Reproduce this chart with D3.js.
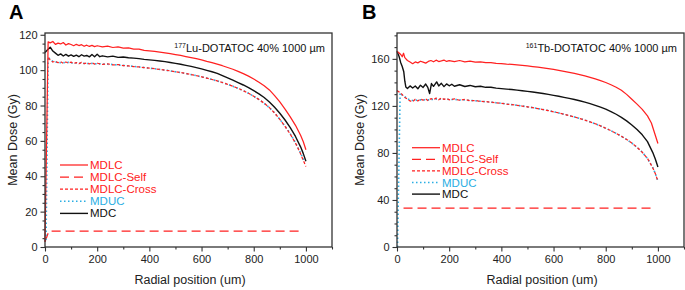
<!DOCTYPE html>
<html>
<head>
<meta charset="utf-8">
<script src="https://cdn.jsdelivr.net/npm/d3@7"></script>
<style>
  body { margin: 0; background: #fff; }
  svg { display: block; font-family: "Liberation Sans", Arial, sans-serif; }
  .axis text { font-size: 11px; fill: #222; }
  .axis path, .axis line { stroke: #333; stroke-width: 1.1; }
</style>
</head>
<body>
<svg id="chart" width="685" height="290"></svg>
<script>
// ---- data: [radial position (um), mean dose (Gy)] ----
const seriesNames = ['MDLC', 'MDLC-Self', 'MDLC-Cross', 'MDUC', 'MDC'];

// panel A : 177Lu-DOTATOC
const aMDLC = [[0,3],[12,116],[20,115.4],[30,116.2],[40,114.6],[50,115.3],[60,114.8],[70,115.6],[80,114.2],[90,115],[100,114.5],[110,113.8],[120,114.6],[130,113.9],[140,114.4],[150,113.5],[160,114.1],[170,113.4],[180,114],[190,113.3],[200,113.8],[220,113.1],[240,113.6],[260,112.8],[280,113.1],[300,112.5],[320,112.6],[340,111.9],[360,111.9],[380,111.2],[400,110.9],[420,110.6],[440,110.2],[460,109.8],[480,109.3],[500,108.8],[520,108.3],[540,107.7],[560,107.1],[580,106.5],[600,105.8],[620,105],[640,104.3],[660,103.4],[680,102.5],[700,101.5],[720,100.5],[740,99.3],[760,98],[780,96.6],[800,95],[820,93.2],[840,91.2],[860,88.8],[880,85.6],[900,82],[920,78],[940,73.6],[960,68.8],[980,63],[990,59.5],[1000,55]];
const aSelf = [[0,3],[15,9],[985,9]];
const aCross = [[12,107],[20,105.8],[30,104.6],[40,105.1],[50,104.2],[60,104.8],[70,103.9],[80,104.6],[90,104],[100,104.5],[110,103.8],[120,104.3],[130,103.6],[140,104.4],[150,103.7],[160,104.1],[170,103.5],[180,104.2],[190,103.4],[200,103.9],[220,103.3],[240,103.6],[260,103],[280,103.1],[300,102.6],[320,102.4],[340,102],[360,101.8],[380,101.4],[400,101.1],[420,100.8],[440,100.4],[460,100],[480,99.6],[500,99.1],[520,98.6],[540,98.1],[560,97.5],[580,96.9],[600,96.2],[620,95.5],[640,94.7],[660,93.9],[680,93],[700,92],[720,90.9],[740,89.7],[760,88.4],[780,86.9],[800,85.2],[820,83.4],[840,81.3],[860,78.8],[880,75.8],[900,72.2],[920,68.2],[940,63.8],[960,58.8],[980,52.6],[990,49],[1000,45.5]];
const aMDUC = [[4,4],[12,107.4],[20,106.1],[30,104.9],[40,104.6],[50,104.5],[60,104.2],[70,104.3],[80,104.1],[90,104.4],[100,104],[110,104.1],[120,104],[130,103.9],[140,104],[150,103.8],[160,103.8],[170,103.7],[180,103.8],[190,103.6],[200,103.6],[220,103.5],[240,103.3],[260,103.2],[280,102.9],[300,102.7],[320,102.4],[340,102.1],[360,101.8],[380,101.5],[400,101.1],[420,100.8],[440,100.4],[460,100],[480,99.6],[500,99.1],[520,98.6],[540,98.1],[560,97.5],[580,96.9],[600,96.2],[620,95.5],[640,94.7],[660,93.9],[680,93],[700,92],[720,90.9],[740,89.7],[760,88.4],[780,86.9],[800,85.2],[820,83.4],[840,81.3],[860,78.8],[880,75.8],[900,72.2],[920,68.3],[940,64],[960,59],[980,53],[995,48]];
const aMDC = [[0,110],[10,111.5],[20,113],[30,110.8],[40,109.6],[50,108.4],[60,109.2],[70,108],[80,108.9],[90,107.9],[100,108.6],[110,107.8],[120,108.5],[130,107.6],[140,108.7],[150,107.9],[160,108.3],[170,107.5],[180,108.8],[190,107.6],[200,109],[210,107.6],[220,108.1],[240,107.5],[260,107.9],[280,107.2],[300,107.4],[320,107],[340,106.8],[360,106.5],[380,106.1],[400,105.8],[420,105.5],[440,105.2],[460,104.8],[480,104.3],[500,103.8],[520,103.3],[540,102.7],[560,102.1],[580,101.4],[600,100.7],[620,99.9],[640,99.1],[660,98.2],[680,96.9],[700,95.6],[720,94.3],[740,93],[760,91.6],[780,90.1],[800,88.4],[820,86.6],[840,84.5],[860,82],[880,79],[900,75.6],[920,71.8],[940,67.5],[960,62.5],[980,56.5],[990,52.8],[1000,48.5]];

// panel B : 161Tb-DOTATOC
const bMDLC = [[0,166.5],[8,165],[15,163.5],[20,161.8],[25,164.8],[30,161],[40,158.6],[50,157.3],[60,155.9],[70,157.4],[80,156.6],[90,158],[100,157.2],[110,156.4],[120,157.8],[130,158.6],[140,157.5],[150,158.9],[160,157.7],[170,158.3],[180,159],[190,157.8],[200,158.5],[220,157.6],[240,158.6],[260,157.5],[280,158],[300,157.2],[320,157.5],[340,156.8],[360,156.9],[380,156.2],[400,156],[420,155.6],[440,155.3],[460,154.9],[480,154.5],[500,154],[520,153.5],[540,153],[560,152.4],[580,151.7],[600,151],[620,150.2],[640,149.4],[660,148.5],[680,147.6],[700,146.6],[720,145.5],[740,144.3],[760,143],[780,141.5],[800,139.9],[820,138],[840,135.9],[860,133.3],[880,129.8],[900,125.6],[920,121.5],[940,117],[960,111.5],[975,105.5],[990,95],[1000,88]];
const bSelf = [[25,33],[975,33]];
const bCross = [[0,133],[10,131.6],[20,129.6],[30,127.2],[40,125.8],[50,124.2],[60,123.6],[70,125.6],[80,124.2],[90,125.8],[100,124.9],[110,125.9],[120,124.4],[130,126.2],[140,125.3],[150,126.6],[160,125.2],[170,126.7],[180,125.6],[190,126.3],[200,125.2],[220,126],[240,124.8],[260,125.5],[280,124.4],[300,124.6],[320,123.8],[340,123.6],[360,123.2],[380,122.7],[400,122.2],[420,121.6],[440,121.1],[460,120.5],[480,119.9],[500,119.2],[520,118.5],[540,117.7],[560,116.9],[580,116],[600,115],[620,114],[640,112.9],[660,111.8],[680,110.6],[700,109.3],[720,107.9],[740,106.4],[760,104.8],[780,103],[800,101],[820,98.9],[840,96.6],[860,94.2],[880,91.5],[900,88.4],[920,84.8],[940,80.6],[960,75.3],[980,67.5],[990,62.5],[1000,56]];
const bMDUC = [[2,0],[12,131],[20,129.2],[30,127.8],[40,126.2],[50,125],[60,124.6],[70,124.9],[80,124.8],[90,125.2],[100,125],[110,125.3],[120,125.1],[130,125.6],[140,125.4],[150,125.8],[160,125.5],[170,125.9],[180,125.6],[190,125.7],[200,125.4],[220,125.5],[240,125.1],[260,125],[280,124.6],[300,124.4],[320,124],[340,123.6],[360,123.2],[380,122.7],[400,122.2],[420,121.6],[440,121.1],[460,120.5],[480,119.9],[500,119.2],[520,118.5],[540,117.7],[560,116.9],[580,116],[600,115],[620,114],[640,112.9],[660,111.8],[680,110.6],[700,109.3],[720,107.9],[740,106.4],[760,104.8],[780,103],[800,101],[820,98.9],[840,96.6],[860,94.2],[880,91.5],[900,88.4],[920,84.8],[940,80.6],[960,75.3],[980,67.6],[990,62.6],[1000,56.2]];
const bMDC = [[0,166.5],[8,162],[14,157],[20,153.5],[26,149],[30,141],[34,136],[40,134.8],[50,137],[60,135.2],[70,136.9],[80,134.6],[90,137.6],[100,135.7],[110,138.6],[118,135.8],[125,130.5],[132,139],[140,136.6],[152,140.4],[160,137],[170,139.2],[180,136.4],[190,138.7],[200,137.1],[210,138.4],[220,136.7],[240,138],[260,136.5],[280,137.4],[300,136.3],[320,136.7],[340,135.8],[360,135.9],[380,135.1],[400,134.7],[420,134.3],[440,133.9],[460,133.4],[480,132.9],[500,132.4],[520,131.8],[540,131.2],[560,130.5],[580,129.8],[600,129],[620,128.2],[640,127.3],[660,126.4],[680,125.4],[700,124.4],[720,123.2],[740,121.9],[760,120.5],[780,118.9],[800,117.2],[820,115.2],[840,112.9],[860,110.3],[880,107.3],[900,103.8],[920,99.9],[940,95.4],[960,89.6],[980,80.5],[990,74.8],[1000,68]];

// tick labels
const xMajorTicks = [0, 200, 400, 600, 800, 1000];
const xMinorTicks = [100, 300, 500, 700, 900, 1100];
const aYMajorTicks = [0, 20, 40, 60, 80, 100, 120];
const bYMajorTicks = [0, 40, 80, 120, 160];

// line styles per series
const styles = {
  'MDLC': { color: '#ff2121', dash: null, width: 1.25 },
  'MDLC-Self': { color: '#ff2121', dash: '9,5', width: 1.25 },
  'MDLC-Cross': { color: '#ff2121', dash: '3,2', width: 1.25 },
  'MDUC': { color: '#2aaee3', dash: '1.5,2.5', width: 1.6 },
  'MDC': { color: '#111111', dash: null, width: 1.4 },
};

const svg = d3.select('#chart');

function drawPanel(cfg) {
  const x = d3.scaleLinear().domain([0, 1100]).range([cfg.left, cfg.right]);
  const y = d3.scaleLinear().domain([0, cfg.yMax]).range([cfg.bottom, cfg.top]);
  const g = svg.append('g');

  // minor ticks first
  const yMinor = d3.range(0, cfg.yMax + 0.01, cfg.yMinorStep).filter((v) => !cfg.yTicks.includes(v));
  g.append('g').attr('class', 'axis')
    .attr('transform', `translate(${cfg.left},0)`)
    .call(d3.axisLeft(y).tickValues(yMinor).tickSize(2.5).tickFormat('').tickSizeOuter(0))
    .call((s) => s.select('.domain').remove());
  g.append('g').attr('class', 'axis')
    .attr('transform', `translate(0,${cfg.bottom})`)
    .call(d3.axisBottom(x).tickValues(xMinorTicks).tickSize(2.5).tickFormat('').tickSizeOuter(0))
    .call((s) => s.select('.domain').remove());

  // major ticks
  g.append('g').attr('class', 'axis')
    .attr('transform', `translate(${cfg.left},0)`)
    .call(d3.axisLeft(y).tickValues(cfg.yTicks).tickSize(4.5).tickPadding(3)
      .tickFormat((d) => d).tickSizeOuter(0))
    .call((s) => s.select('.domain').remove());
  g.append('g').attr('class', 'axis')
    .attr('transform', `translate(0,${cfg.bottom})`)
    .call(d3.axisBottom(x).tickValues(xMajorTicks).tickSize(4.5).tickPadding(4)
      .tickFormat((d) => d).tickSizeOuter(0))
    .call((s) => s.select('.domain').remove());

  // series
  const line = d3.line().x((d) => x(d[0])).y((d) => y(d[1]));
  const order = ['MDLC-Self', 'MDUC', 'MDLC-Cross', 'MDC', 'MDLC'];
  order.forEach((name) => {
    const st = styles[name];
    g.append('path')
      .attr('d', line(cfg.series[name]))
      .attr('fill', 'none')
      .attr('stroke', st.color)
      .attr('stroke-width', st.width)
      .attr('stroke-dasharray', st.dash)
      .attr('stroke-linejoin', 'round');
  });

  // frame
  g.append('rect')
    .attr('x', cfg.left).attr('y', cfg.top)
    .attr('width', cfg.right - cfg.left).attr('height', cfg.bottom - cfg.top)
    .attr('fill', 'none').attr('stroke', '#333').attr('stroke-width', 1.3);

  // annotation
  const ann = g.append('text')
    .attr('x', cfg.right - 7).attr('y', 52)
    .attr('text-anchor', 'end')
    .attr('font-size', 11).attr('fill', '#111');
  ann.append('tspan').attr('font-size', 7).attr('dy', -4).text(cfg.isotopeMass);
  ann.append('tspan').attr('dy', 4).text(`${cfg.isotope}-DOTATOC 40% 1000 \u00b5m`);

  // legend
  const leg = g.append('g');
  seriesNames.forEach((name, i) => {
    const st = styles[name];
    const ly = cfg.legendY + i * cfg.legendStep;
    leg.append('line')
      .attr('x1', cfg.legendX).attr('x2', cfg.legendX + 28)
      .attr('y1', ly).attr('y2', ly)
      .attr('stroke', st.color)
      .attr('stroke-width', st.width)
      .attr('stroke-dasharray', st.dash);
    leg.append('text')
      .attr('x', cfg.legendX + 30).attr('y', ly + 4)
      .attr('font-size', 11.5)
      .attr('fill', st.color)
      .text(name);
  });

  // axis titles
  svg.append('text')
    .attr('transform', `translate(${cfg.yTitleX},${(cfg.top + cfg.bottom) / 2}) rotate(-90)`)
    .attr('text-anchor', 'middle')
    .attr('font-size', 12.5).attr('fill', '#222')
    .text('Mean Dose (Gy)');
  svg.append('text')
    .attr('x', (cfg.left + cfg.right) / 2 + 1.5).attr('y', 284)
    .attr('text-anchor', 'middle')
    .attr('font-size', 12.5).attr('fill', '#222')
    .text('Radial position (um)');

  // panel letter
  svg.append('text')
    .attr('x', cfg.letterX).attr('y', 18.5)
    .attr('font-size', 20).attr('font-weight', 'bold').attr('fill', '#000')
    .text(cfg.letter);
}

drawPanel({
  letter: 'A', letterX: 9, left: 45, right: 332, top: 33, bottom: 247,
  yMax: 121, yTicks: aYMajorTicks, yMinorStep: 5, yTitleX: 16.5,
  isotope: 'Lu', isotopeMass: '177',
  legendX: 60, legendY: 165, legendStep: 12.1,
  series: { 'MDLC': aMDLC, 'MDLC-Self': aSelf, 'MDLC-Cross': aCross, 'MDUC': aMDUC, 'MDC': aMDC },
});

drawPanel({
  letter: 'B', letterX: 362, left: 397, right: 684, top: 33, bottom: 247,
  yMax: 182, yTicks: bYMajorTicks, yMinorStep: 10, yTitleX: 364,
  isotope: 'Tb', isotopeMass: '161',
  legendX: 412, legendY: 147.7, legendStep: 11.6,
  series: { 'MDLC': bMDLC, 'MDLC-Self': bSelf, 'MDLC-Cross': bCross, 'MDUC': bMDUC, 'MDC': bMDC },
});
</script>
</body>
</html>
